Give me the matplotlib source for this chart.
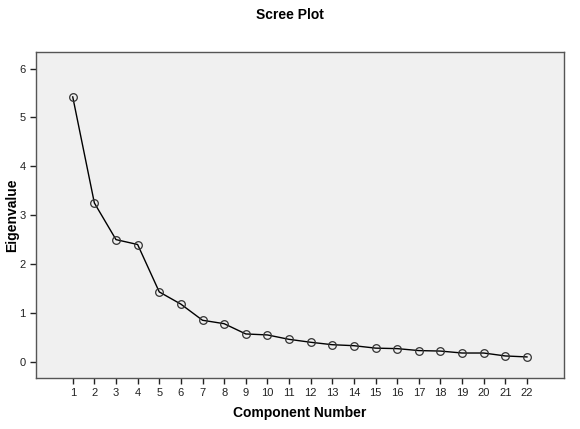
import matplotlib
matplotlib.use('Agg')
import matplotlib.pyplot as plt

# scree plot values
components = list(range(1, 23))
eigenvalues = [5.42, 3.25, 2.50, 2.40, 1.43, 1.18, 0.85, 0.78, 0.57, 0.55, 0.46,
               0.40, 0.35, 0.33, 0.28, 0.27, 0.23, 0.22, 0.18, 0.18, 0.12, 0.10]
y_ticks = [0, 1, 2, 3, 4, 5, 6]

plt.rcParams['font.family'] = ['Liberation Sans', 'DejaVu Sans']

fig = plt.figure(figsize=(5.8, 4.29), dpi=100)
ax = fig.add_axes([0.062, 0.119, 0.910, 0.760])
ax.set_facecolor('#f0f0f0')

ax.plot(components, eigenvalues, color='black', linewidth=1.0,
        marker='o', markersize=5.5, markerfacecolor='none',
        markeredgecolor='#333333', markeredgewidth=0.9)

ax.set_xlim(-0.7, 23.7)
ax.set_ylim(-0.33, 6.34)
ax.set_xticks(components)
ax.set_yticks(y_ticks)
ax.tick_params(labelsize=8, colors='#222222', length=4, width=1.0, direction='out')

for side in ['top', 'right', 'left', 'bottom']:
    ax.spines[side].set_color('#555555')
    ax.spines[side].set_linewidth(1.0)

ax.set_xlabel('Component Number', fontsize=10, fontweight='bold')
ax.xaxis.set_label_coords(0.5, -0.085)
ax.set_ylabel('Eigenvalue', fontsize=10, fontweight='bold')
ax.yaxis.set_label_coords(-0.031, 0.5)
fig.text(0.5, 0.965, 'Scree Plot', ha='center', va='center',
         fontsize=10, fontweight='bold')

fig.savefig('out.png', dpi=100)
